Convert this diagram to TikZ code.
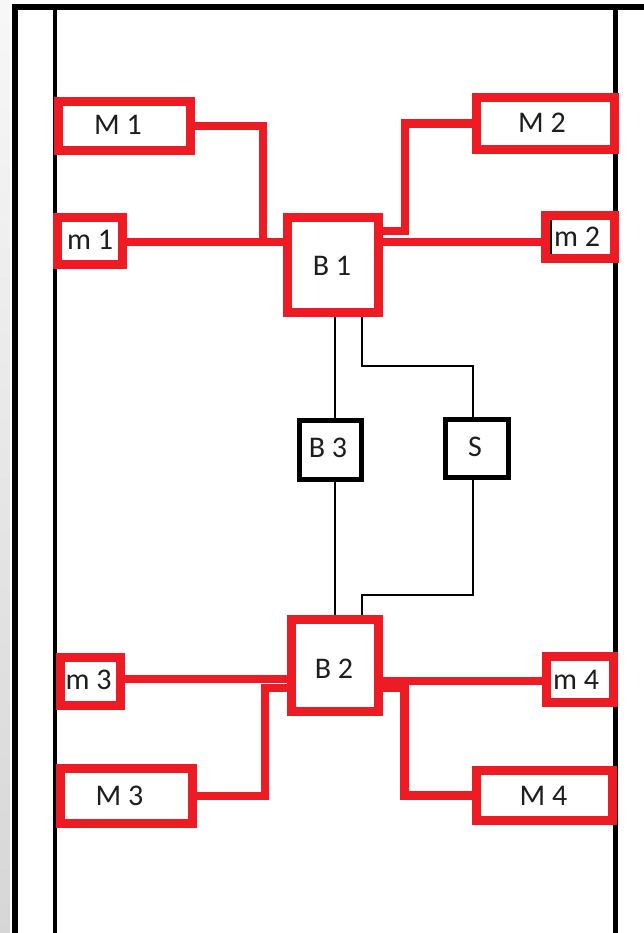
\documentclass[tikz,border=0pt]{standalone}
\usepackage{fontspec}
\setmainfont{Carlito}
\usetikzlibrary{calc}
\definecolor{pred}{HTML}{ED1C24}
\definecolor{txt}{HTML}{1E1E1E}
\begin{document}
\begin{tikzpicture}[x=1pt,y=-1pt,
  rbox/.style={draw=pred,line width=9pt,fill=white,inner sep=0pt},
  kbox/.style={draw=black,line width=5pt,fill=white,inner sep=0pt},
  lbl/.style={inner sep=0pt,text=txt,font=\fontsize{30}{36}\selectfont},
  rline/.style={draw=pred,line width=8.5pt},
  kline/.style={draw=black,line width=1.4pt},
  frameline/.style={draw=black,line width=5.5pt}]
\useasboundingbox (0,0) rectangle (644,933);
% left grey strip
\shade[top color=gray!6,bottom color=gray!32] (0,0) rectangle (10,933);
% frame
\draw[frameline] (15,933) -- (15,7) -- (644,7);
\draw[black,line width=4pt] (54.5,9) -- (54.5,933);
\draw[black,line width=4.5pt] (615.5,9) -- (615.5,933);
% boxes
\node[rbox,minimum width=132pt,minimum height=49pt] (M1) at (124.5,126) {};
\node[rbox,minimum width=65pt,minimum height=47pt] (m1) at (90,241) {};
\node[rbox,minimum width=91pt,minimum height=95pt] (B1) at (333,265) {};
\node[rbox,minimum width=138pt,minimum height=52pt] (M2) at (545.5,123.5) {};
\node[rbox,minimum width=69pt,minimum height=43pt] (m2) at (580,237) {};
\node[kbox,minimum width=62pt,minimum height=59pt] (B3) at (330.5,450) {};
\node[kbox,minimum width=63pt,minimum height=58pt] (S) at (477,448.5) {};
\node[rbox,minimum width=87pt,minimum height=92pt] (B2) at (335,665.5) {};
\node[rbox,minimum width=60pt,minimum height=48pt] (m3) at (90.5,681.5) {};
\node[rbox,minimum width=132pt,minimum height=55pt] (M3) at (126.5,796) {};
\node[rbox,minimum width=67pt,minimum height=46pt] (m4) at (580,679.5) {};
\node[rbox,minimum width=136pt,minimum height=50pt] (M4) at (544.5,795.5) {};
% texts
\node[lbl] (M1t) at (118,125) {M 1};
\node[lbl] (m1t) at (90,240) {m 1};
\node[lbl] (B1t) at (332,266) {B 1};
\node[lbl] (M2t) at (542,123) {M 2};
\node[lbl] (m2t) at (577,237) {m 2};
\node[lbl] (B3t) at (328,448) {B 3};
\node[lbl] (St) at (475,447) {S};
\node[lbl] (B2t) at (334,668.5) {B 2};
\node[lbl] (m3t) at (88.5,680) {m 3};
\node[lbl] (M3t) at (119.5,796) {M 3};
\node[lbl] (m4t) at (576,680) {m 4};
\node[lbl] (M4t) at (543.5,796) {M 4};
\draw[black,line width=1.3pt] (551,220) -- (551,254);
% coordinates
\coordinate (j1) at (263,240);
\coordinate (j2) at (405,231);
\coordinate (j3) at (265,688);
\coordinate (j4) at (404.5,688);
\coordinate (a) at (335,0);
\coordinate (b) at (362,0);
\coordinate (c) at (473,0);
\coordinate (k1) at (362,366);
\coordinate (k2) at (473,366);
\coordinate (k3) at (473,595);
\coordinate (k4) at (362,595);
% black connectors
\draw[kline] (B1.south -| a) -- (B3.north -| a);
\draw[kline] (B3.south -| a) -- (B2.north -| a);
\draw[kline] (B1.south -| b) -- (k1) -- (k2) -- (S.north -| c);
\draw[kline] (S.south -| c) -- (k3) -- (k4) -- (B2.north -| b);
% red connectors
\draw[rline] (m1.east |- 0,242) -- (B1.west |- 0,242);
\draw[rline] (M1.east) -| (j1);
\draw[rline] (B1.east |- 0,242) -- (m2.west |- 0,242);
\draw[rline] (M2.west) -| (j2) -- (j2 -| B1.east);
\draw[rline] (m3.east |- 0,679) -- (B2.west |- 0,679);
\draw[rline] (M3.east) -| (j3) -- (j3 -| B2.west);
\draw[rline] (B2.east |- 0,681) -- (m4.west |- 0,681);
\draw[rline] (M4.west) -| (j4) -- (j4 -| B2.east);
\end{tikzpicture}
\end{document}
